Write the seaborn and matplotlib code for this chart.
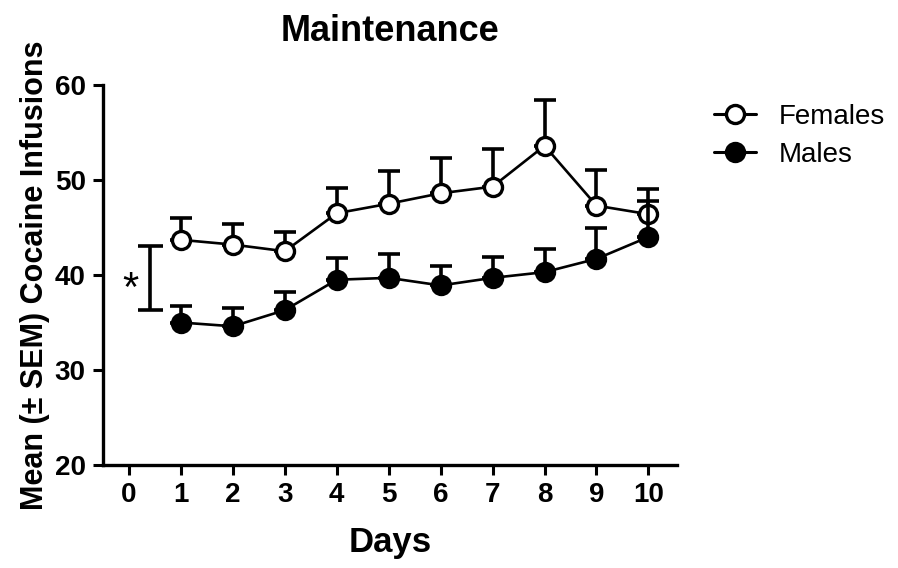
import numpy as np
import pandas as pd
import matplotlib
matplotlib.use("Agg")
import matplotlib.pyplot as plt
import seaborn as sns
from matplotlib.lines import Line2D

# values
days = [1, 2, 3, 4, 5, 6, 7, 8, 9, 10]
females_mean = [43.7, 43.2, 42.5, 46.5, 47.5, 48.6, 49.3, 53.6, 47.3, 46.4]
females_sem = [2.3, 2.2, 2.0, 2.7, 3.4, 3.7, 4.0, 4.8, 3.7, 2.7]
males_mean = [35.0, 34.6, 36.3, 39.5, 39.7, 38.9, 39.7, 40.3, 41.7, 44.0]
males_sem = [1.7, 1.9, 1.9, 2.3, 2.5, 2.0, 2.2, 2.4, 3.2, 3.8]

# significance bracket drawn at day "0"
bracket_x = 0.4
bracket_low = 36.3
bracket_high = 43.0

xticks = list(range(0, 11))
yticks = [20, 30, 40, 50, 60]

df = pd.DataFrame({
    "Days": days * 2,
    "mean": females_mean + males_mean,
    "sem": females_sem + males_sem,
    "group": ["Females"] * len(days) + ["Males"] * len(days),
})

sns.set_style("ticks")
plt.rcParams["font.family"] = ["Liberation Sans", "DejaVu Sans"]
plt.rcParams["text.color"] = "black"
plt.rcParams["axes.labelcolor"] = "black"
plt.rcParams["xtick.color"] = "black"
plt.rcParams["ytick.color"] = "black"
plt.rcParams["axes.edgecolor"] = "black"

fig = plt.figure(figsize=(8.98, 5.68), dpi=100)
ax = fig.add_axes([0.1147, 0.1813, 0.6392, 0.6691])

styles = {
    "Females": dict(mfc="white", z=3),
    "Males": dict(mfc="black", z=5),
}

for name, sub in df.groupby("group"):
    st = styles[name]
    zeros = np.zeros(len(sub))
    ax.errorbar(sub["Days"], sub["mean"], yerr=[zeros, sub["sem"]],
                fmt="none", ecolor="black", elinewidth=2.6, capsize=8,
                capthick=2.6, zorder=st["z"] - 1)
    sns.lineplot(data=sub, x="Days", y="mean", color="black", lw=1.9,
                 marker="o", markersize=13, markerfacecolor=st["mfc"],
                 markeredgecolor="black", markeredgewidth=2.4,
                 ax=ax, zorder=st["z"], legend=False)

# bracket and asterisk
ax.errorbar([bracket_x], [(bracket_low + bracket_high) / 2],
            yerr=[[(bracket_high - bracket_low) / 2]], fmt="none",
            ecolor="black", elinewidth=2.6, capsize=9, capthick=2.6)
ax.text(0.03, 38.4, "*", fontsize=30, ha="center", va="center")

ax.set_xlim(-0.5, 10.55)
ax.set_ylim(20, 60)
ax.set_xticks(xticks)
ax.set_yticks(yticks)
ax.set_xlabel("Days", fontsize=25, fontweight="bold", labelpad=13)
ax.set_ylabel("Mean (\u00b1 SEM) Cocaine Infusions", fontsize=22,
              fontweight="bold", labelpad=3)
ax.set_title("Maintenance", fontsize=26, fontweight="bold", pad=32)

ax.tick_params(axis="both", length=7.5, width=2.2, labelsize=20, pad=5)
for lab in ax.get_xticklabels() + ax.get_yticklabels():
    lab.set_fontweight("bold")
for s in ["left", "bottom"]:
    ax.spines[s].set_linewidth(2.4)
sns.despine(ax=ax)

handles = [
    Line2D([], [], color="black", lw=2.2, marker="o", markersize=13,
           markerfacecolor="white", markeredgewidth=2.4),
    Line2D([], [], color="black", lw=2.2, marker="o", markersize=13,
           markerfacecolor="black", markeredgewidth=2.4),
]
fig.legend(handles, ["Females", "Males"], loc="center left",
           bbox_to_anchor=(0.7956, 0.761), frameon=False, fontsize=20,
           handlelength=1.5, handletextpad=0.8, labelspacing=0.45,
           borderpad=0, borderaxespad=0)

fig.savefig("out.png", dpi=100)
